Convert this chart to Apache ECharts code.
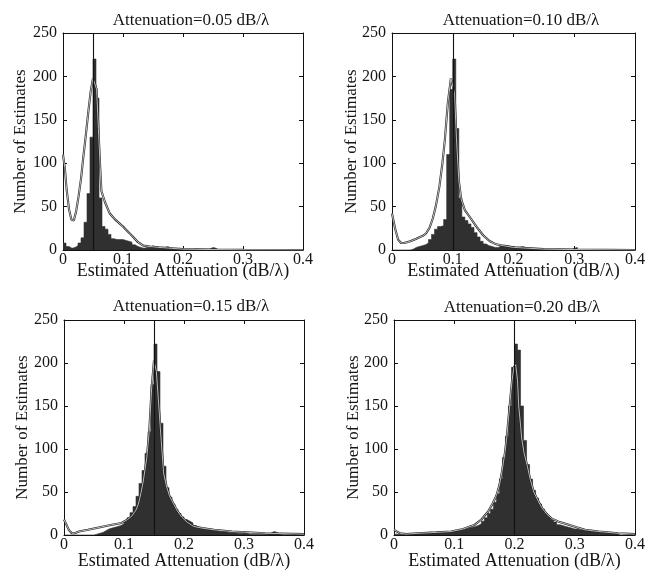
<!DOCTYPE html>
<html><head><meta charset="utf-8">
<script src="https://cdn.jsdelivr.net/npm/echarts@6/dist/echarts.min.js"></script>
<style>html,body{margin:0;padding:0;background:#fff}#c{width:653px;height:570px}</style>
</head><body><div id="c"></div>
<script>
// ---------- data ----------
const titles = ['Attenuation=0.05 dB/\u03bb', 'Attenuation=0.10 dB/\u03bb', 'Attenuation=0.15 dB/\u03bb', 'Attenuation=0.20 dB/\u03bb'];
const trueAtten = [0.05, 0.10, 0.15, 0.20];
const xAxisName = 'Estimated Attenuation (dB/\u03bb)';
const yAxisName = 'Number of Estimates';
const binWidth = 0.005; // histogram bins start at 0
const xTickLabels = ['0', '0.1', '0.2', '0.3', '0.4'];
const yTickLabels = ['0', '50', '100', '150', '200', '250'];

const hist005 = [8,4,2,3,5,8,14,32,65,130,220,175,60,27,24,18,13,12,12,12,11,10,9,6,4,3,2,3,3,5,3,2,2,3,4,2,1,1,0,1,1,1,0,1,1,0,0,0,1,3,2,0];
const hist010 = [0,0,0,0,0,0,1,3,4,5,6,8,12,18,24,27,28,35,110,185,220,140,60,38,34,30,26,20,15,10,7,5,4,3,3,5,5,5,4,4,3,3,4,3,2,1,1,1,0,1,1,1,0,0,0,0,0,0,0,2,3,0];
const hist015 = [0,0,0,0,0,0,0,0,0,0,1,2,3,5,7,8,9,10,11,13,16,20,26,33,45,60,75,95,120,175,222,190,130,80,55,44,36,30,25,21,18,16,14,11,9,8,7,6,6,5,5,4,4,4,3,3,3,2,2,2,2,1,1,1,1,1,1,1,2,4,3,1,0];
const hist020 = [1,1,0,1,1,1,2,2,2,2,3,3,3,3,3,3,4,4,4,5,5,6,6,7,8,9,10,11,13,16,20,25,30,38,48,65,90,115,150,195,222,215,150,110,82,65,52,43,36,30,25,21,18,15,12,11,10,9,8,7,7,6,6,5,5,4,4,4,3,3,3,3,2,2,0];

const curveX005 = [0,0.003,0.006,0.010,0.014,0.018,0.022,0.026,0.030,0.034,0.038,0.042,0.046,0.050,0.053,0.056,0.059,0.062,0.064,0.070,0.078,0.087,0.100,0.110,0.117,0.125,0.134,0.145,0.160,0.180,0.200,0.250,0.300,0.400];
const curveY005 = [110,95,70,47,35,34,45,62,82,108,132,158,182,198,200,185,140,95,68,55,42,35,27,20,15,9,5,4,3,2,1,0.5,0.2,0];
const curveX010 = [0,0.005,0.010,0.015,0.020,0.030,0.040,0.046,0.050,0.056,0.062,0.067,0.072,0.078,0.083,0.087,0.092,0.097,0.100,0.103,0.106,0.110,0.114,0.120,0.128,0.139,0.150,0.161,0.170,0.183,0.200,0.250,0.300,0.400];
const curveY010 = [42,25,12,8,8,10,13,15,16,19,26,36,50,73,100,127,170,198,200,180,130,80,58,46,38,27,17,10,7,5,3,1,0.5,0];
const curveX015 = [0,0.004,0.008,0.013,0.018,0.025,0.040,0.060,0.080,0.096,0.106,0.113,0.120,0.124,0.128,0.132,0.138,0.142,0.146,0.150,0.154,0.158,0.162,0.166,0.171,0.176,0.182,0.189,0.196,0.205,0.216,0.230,0.250,0.280,0.335,0.400];
const curveY015 = [18,12,6,2,2,4,6,9,12,14,18,22,29,36,48,62,90,120,170,203,190,150,110,72,56,45,37,28,21,15,10,8,6,4,2,1];
const curveX020 = [0,0.005,0.010,0.020,0.040,0.070,0.095,0.115,0.134,0.145,0.156,0.164,0.170,0.175,0.179,0.184,0.187,0.190,0.193,0.196,0.199,0.202,0.205,0.207,0.210,0.212,0.216,0.221,0.226,0.232,0.239,0.246,0.254,0.262,0.275,0.290,0.303,0.317,0.340,0.372,0.400];
const curveY020 = [6,4,2,1,2,3,4,7,12,18,27,37,46,58,73,95,112,135,158,180,195,198,180,150,128,112,95,81,65,50,40,31,24,19,15,12,9,6,4,2,1];

// ---------- layout ----------
const hists = [hist005, hist010, hist015, hist020];
const curvesX = [curveX005, curveX010, curveX015, curveX020];
const curvesY = [curveY005, curveY010, curveY015, curveY020];
const grids = [
  {left: 63, top: 33, width: 240, height: 217},
  {left: 392, top: 33, width: 243, height: 217},
  {left: 64, top: 320, width: 240, height: 215},
  {left: 394, top: 320, width: 241, height: 215}
];
const xNameGap = [12, 12, 17, 17];
const yNameGap = [34, 32, 33, 32];
const titleTop = [7, 7, 293, 294];
const titleCenter = [186, 516, 186, 517];

const FONT = '"Liberation Serif", "DejaVu Serif", serif';
const TXT = '#151515';

const option = {
  animation: false,
  backgroundColor: '#fff',
  title: [], grid: [], xAxis: [], yAxis: [], series: []
};

const xVals = xTickLabels.map(Number);
const yVals = yTickLabels.map(Number);

for (let p = 0; p < 4; p++) {
  option.title.push({
    text: titles[p], left: titleCenter[p], top: titleTop[p], textAlign: 'center',
    textStyle: {fontFamily: FONT, fontSize: 17, fontWeight: 'normal', color: TXT}
  });
  option.grid.push(Object.assign({containLabel: false, outerBoundsMode: 'none'}, grids[p]));
  const xmin = xVals[0], xmax = xVals[xVals.length - 1], xint = xVals[1] - xVals[0];
  const ymin = yVals[0], ymax = yVals[yVals.length - 1], yint = yVals[1] - yVals[0];
  const axisLine = {show: true, onZero: false, lineStyle: {color: '#111', width: 1}};
  const tick = {show: true, inside: true, length: 4, lineStyle: {color: '#111', width: 1}};
  option.xAxis.push({
    type: 'value', gridIndex: p, min: xmin, max: xmax, interval: xint, position: 'bottom',
    name: xAxisName, nameLocation: 'middle', nameGap: xNameGap[p], nameMoveOverlap: false,
    nameTextStyle: {fontFamily: FONT, fontSize: 18, color: TXT},
    axisLine: axisLine, axisTick: tick, splitLine: {show: false},
    axisLabel: {fontFamily: FONT, fontSize: 16, color: TXT, margin: 2,
      formatter: v => xTickLabels[xVals.findIndex(t => Math.abs(t - v) < 1e-9)] ?? ''}
  });
  option.xAxis.push({
    type: 'value', gridIndex: p, min: xmin, max: xmax, interval: xint, position: 'top',
    axisLine: axisLine, axisTick: tick, axisLabel: {show: false}, splitLine: {show: false}
  });
  option.yAxis.push({
    type: 'value', gridIndex: p, min: ymin, max: ymax, interval: yint, position: 'left',
    name: yAxisName, nameLocation: 'middle', nameGap: yNameGap[p], nameMoveOverlap: false,
    nameTextStyle: {fontFamily: FONT, fontSize: 17, color: TXT},
    axisLine: axisLine, axisTick: tick, splitLine: {show: false},
    axisLabel: {fontFamily: FONT, fontSize: 16, color: TXT, margin: 6}
  });
  option.yAxis.push({
    type: 'value', gridIndex: p, min: ymin, max: ymax, interval: yint, position: 'right',
    axisLine: axisLine, axisTick: tick, axisLabel: {show: false}, splitLine: {show: false}
  });

  const h = hists[p];
  const histPts = h.map((c, i) => [i * binWidth, c]);
  histPts.push([h.length * binWidth, 0]);
  const curvePts = curvesX[p].map((x, i) => [x, curvesY[p][i]]);

  option.series.push({
    type: 'line', xAxisIndex: 2 * p, yAxisIndex: 2 * p, step: 'end', symbol: 'none',
    data: histPts, lineStyle: {width: 0.6, color: '#303030'},
    areaStyle: {color: '#303030', opacity: 1}, z: 2, silent: true
  });
  option.series.push({
    type: 'line', xAxisIndex: 2 * p, yAxisIndex: 2 * p, symbol: 'none',
    data: curvePts, lineStyle: {width: 2.1, color: '#222'}, z: 3, silent: true
  });
  option.series.push({
    type: 'line', xAxisIndex: 2 * p, yAxisIndex: 2 * p, symbol: 'none',
    data: curvePts, lineStyle: {width: 0.7, color: '#ffffff'}, z: 4, silent: true,
    markLine: {
      silent: true, symbol: ['none', 'none'], label: {show: false},
      lineStyle: {color: '#111', width: 1.1, type: 'solid'},
      data: [{xAxis: trueAtten[p]}]
    }
  });
}

const chart = echarts.init(document.getElementById('c'), null, {renderer: 'canvas'});
chart.setOption(option);
</script>
</body></html>
